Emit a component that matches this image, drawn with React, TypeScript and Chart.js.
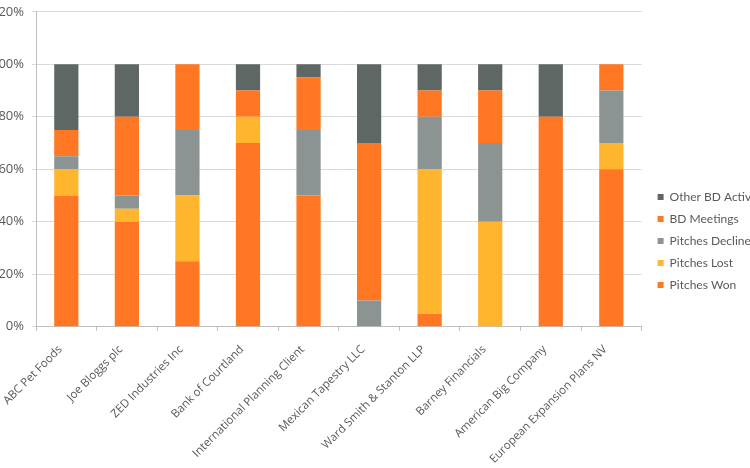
import React, { useEffect, useRef } from "react";
import { Chart, registerables } from "chart.js";

Chart.register(...registerables);

const categories = [
  "ABC Pet Foods",
  "Joe Bloggs plc",
  "ZED Industries Inc",
  "Bank of Courtland",
  "International Planning Client",
  "Mexican Tapestry LLC",
  "Ward Smith & Stanton LLP",
  "Barney Financials",
  "American Big Company",
  "European Expansion Plans NV",
];

const pitchesWon = [50, 40, 25, 70, 50, 0, 5, 0, 80, 60];
const pitchesLost = [10, 5, 25, 10, 0, 0, 55, 40, 0, 10];
const pitchesDeclined = [5, 5, 25, 0, 25, 10, 20, 30, 0, 20];
const bdMeetings = [10, 30, 25, 10, 20, 60, 10, 20, 0, 10];
const otherBdActivities = [25, 20, 0, 10, 5, 30, 10, 10, 20, 0];

const yTicks = [0, 20, 40, 60, 80, 100, 120];

const ORANGE = "#FF7722";
const YELLOW = "#FFB52E";
const LIGHT_GREY = "#8C9493";
const DARK_GREY = "#5F6765";
const TEXT = "#595959";

const legendShift = {
  id: "legendShift",
  afterLayout(chart: any) {
    const lg = chart.legend;
    if (lg) {
      lg.left += 6;
      lg.top += 4;
      lg.bottom += 4;
    }
  },
};

export default function App() {
  const ref = useRef<HTMLCanvasElement>(null);

  useEffect(() => {
    const canvas = ref.current!;
    const chart = new Chart(canvas, {
      type: "bar",
      data: {
        labels: categories,
        datasets: [
          { label: "Pitches Won", data: pitchesWon, backgroundColor: ORANGE },
          { label: "Pitches Lost", data: pitchesLost, backgroundColor: YELLOW },
          { label: "Pitches Declined", data: pitchesDeclined, backgroundColor: LIGHT_GREY },
          { label: "BD Meetings", data: bdMeetings, backgroundColor: ORANGE },
          { label: "Other BD Activities", data: otherBdActivities, backgroundColor: DARK_GREY },
        ],
      },
      options: {
        responsive: false,
        animation: false,
        devicePixelRatio: 1,
        layout: { padding: 0 },
        datasets: {
          bar: { barPercentage: 0.4, categoryPercentage: 1, borderWidth: 0 },
        },
        plugins: {
          tooltip: { enabled: false },
          legend: {
            position: "right",
            reverse: true,
            labels: {
              boxWidth: 6,
              boxHeight: 6,
              padding: 10,
              color: TEXT,
              font: { family: "'Lato', sans-serif", size: 12 },
            },
          },
        },
        scales: {
          x: {
            stacked: true,
            grid: {
              display: true,
              drawOnChartArea: false,
              drawTicks: true,
              tickLength: 4,
              color: "#BFBFBF",
              offset: true,
            },
            border: { display: true, color: "#BFBFBF", width: 1 },
            ticks: {
              color: TEXT,
              font: { family: "'Open Sans', sans-serif", size: 11.5 },
              maxRotation: 45,
              minRotation: 45,
              autoSkip: false,
              padding: 12,
              labelOffset: -6,
            },
          },
          y: {
            stacked: true,
            min: 0,
            max: 120,
            afterBuildTicks: (scale: any) => {
              scale.ticks = yTicks.map((v) => ({ value: v }));
            },
            grid: {
              color: "#D9D9D9",
              drawTicks: true,
              tickLength: 4,
            },
            border: { display: true, color: "#BFBFBF", width: 1 },
            ticks: {
              color: TEXT,
              font: { family: "'Open Sans', sans-serif", size: 13 },
              padding: 8,
              callback: (v: any) => v + "%",
            },
          },
        },
      },
      plugins: [legendShift],
    });
    return () => chart.destroy();
  }, []);

  return (
    <div
      style={{
        position: "fixed",
        left: 0,
        top: 0,
        width: 750,
        height: 468,
        overflow: "hidden",
        background: "#fff",
      }}
    >
      <canvas
        ref={ref}
        width={794}
        height={482}
        style={{ position: "absolute", left: -17, top: -4 }}
      />
    </div>
  );
}
